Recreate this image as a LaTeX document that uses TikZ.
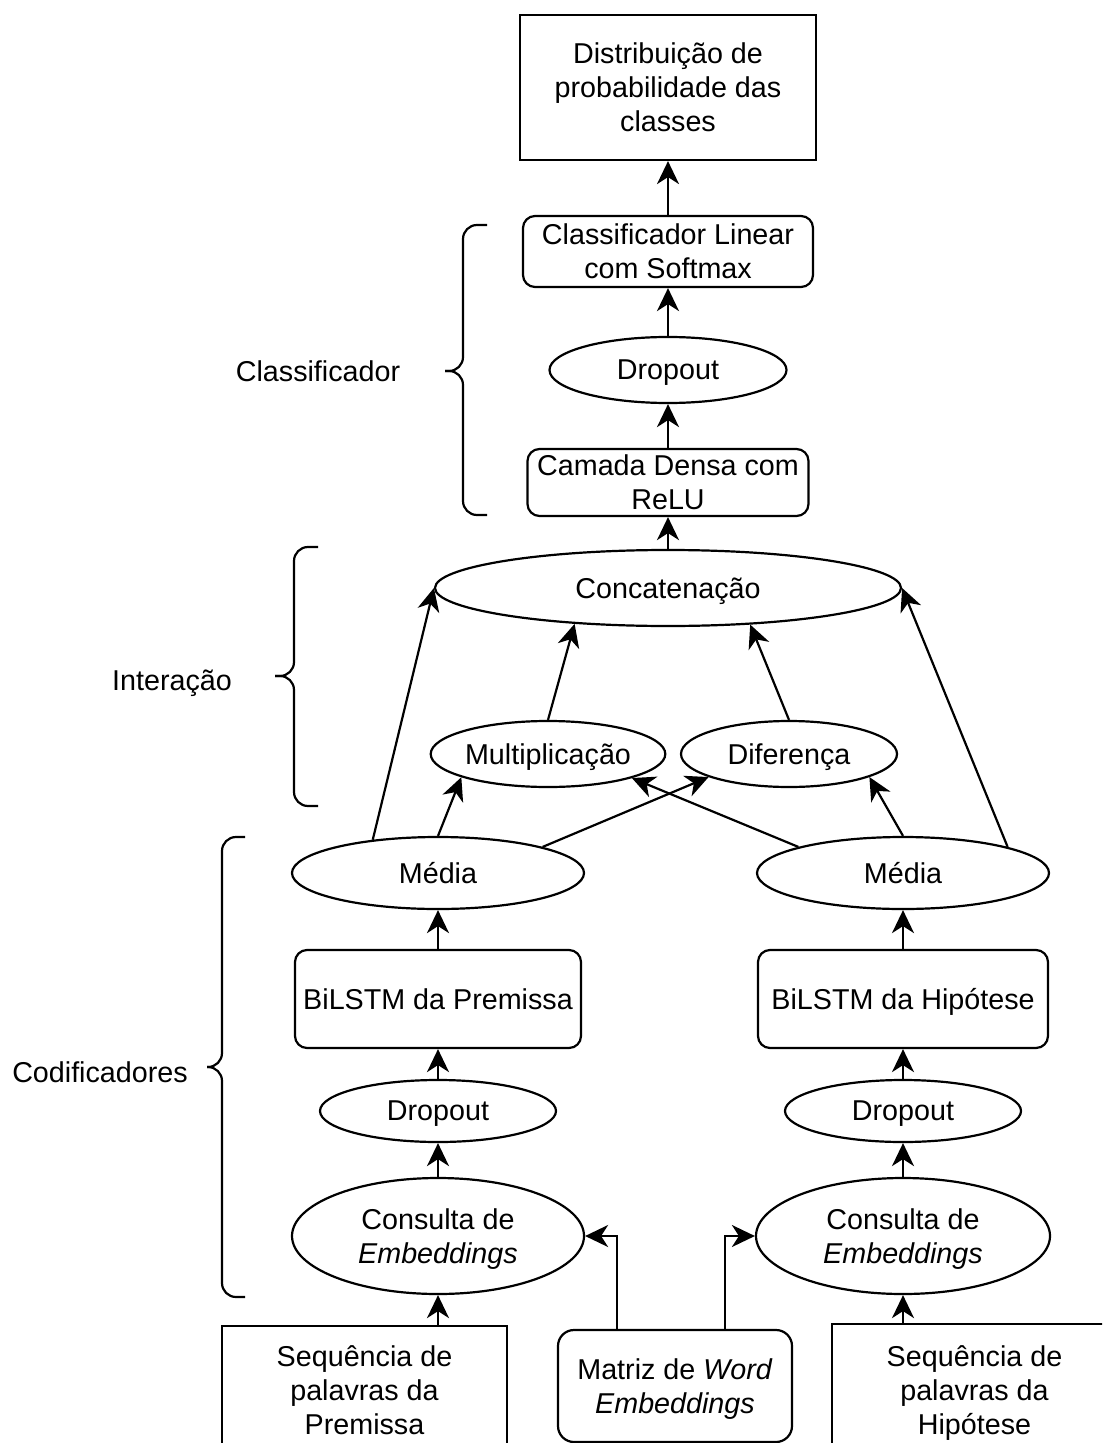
\documentclass[tikz,border=0pt]{standalone}
\usepackage{fontspec}
\setmainfont{Liberation Sans}
\usetikzlibrary{shapes.geometric,arrows.meta}

\begin{document}
\begin{tikzpicture}[x=0.5pt,y=-0.5pt,line width=1.1pt,
  every node/.style={inner sep=0pt,align=center,text depth=0pt,font=\fontsize{14.35}{17}\selectfont},
  box/.style={draw,rectangle},
  rbox/.style={draw,rectangle,rounded corners=6pt},
  oval/.style={draw,ellipse},
  arr/.style={-{Stealth[length=11.5pt,width=11pt,inset=3.5pt]}},
  brace/.style={rounded corners=7pt}]
\useasboundingbox (0,0) rectangle (1102,1443);
\clip (0,0) rectangle (1102,1443);
\node[box,minimum width=148pt,minimum height=72.5pt] (dist) at (668,87.5) {Distribuição de\\probabilidade das\\classes};
\node[rbox,minimum width=145pt,minimum height=35.5pt] (linear) at (668,251.5) {Classificador Linear\\com Softmax};
\node[oval,minimum width=118.5pt,minimum height=33pt] (dropc) at (668,370) {Dropout};
\node[rbox,minimum width=140.5pt,minimum height=33.5pt] (densa) at (668,482.5) {Camada Densa com\\ReLU};
\node[oval,minimum width=233pt,minimum height=38pt] (concat) at (668,588) {Concatenação};
\node[oval,minimum width=116pt,minimum height=33pt] (mult) at (548,754) {Multiplicação};
\node[oval,minimum width=108pt,minimum height=33pt] (dif) at (789,754) {Diferença};
\node[oval,minimum width=146pt,minimum height=36pt] (medp) at (438,873) {Média};
\node[oval,minimum width=146pt,minimum height=36pt] (medh) at (903,873) {Média};
\node[rbox,minimum width=143pt,minimum height=49pt] (bilp) at (438,999) {BiLSTM da Premissa};
\node[rbox,minimum width=145pt,minimum height=49pt] (bilh) at (903,999) {BiLSTM da Hipótese};
\node[oval,minimum width=118pt,minimum height=31pt] (dropp) at (438,1111) {Dropout};
\node[oval,minimum width=118pt,minimum height=31pt] (droph) at (903,1111) {Dropout};
\node[oval,minimum width=146pt,minimum height=58pt] (consp) at (438,1236) {Consulta de\\\textit{Embeddings}};
\node[oval,minimum width=147pt,minimum height=58pt] (consh) at (903,1236) {Consulta de\\\textit{Embeddings}};
\node[box,minimum width=142.5pt,minimum height=64pt] (seqp) at (364.5,1390) {Sequência de\\palavras da\\Premissa};
\node[rbox,rounded corners=8pt,minimum width=117pt,minimum height=56pt] (matriz) at (675,1386) {Matriz de \textit{Word}\\\textit{Embeddings}};
\node[box,minimum width=142.5pt,minimum height=66pt] (seqh) at (974.5,1390) {Sequência de\\palavras da\\Hipótese};
\node (lblclass) at (318,371) {Classificador};
\node (lblinter) at (172,680) {Interação};
\node (lblcod) at (100,1072) {Codificadores};
\draw[arr] (linear.north) -- (dist.south);
\draw[arr] (dropc.north) -- (linear.south);
\draw[arr] (densa.north) -- (dropc.south);
\draw[arr] (concat.north) -- (densa.south);
\draw[arr] (mult.north) -- (concat.201);
\draw[arr] (dif.north) -- (concat.336);
\draw[arr] (medp.153) -- (concat.west);
\draw[arr] (medp.north) -- (mult.195);
\draw[arr] (medp.14) -- (dif.196);
\draw[arr] (medh.166) -- (mult.344);
\draw[arr] (medh.north) -- (dif.344);
\draw[arr] (medh.14) -- (concat.east);
\draw[arr] (bilp.north) -- (medp.south);
\draw[arr] (bilh.north) -- (medh.south);
\draw[arr] (dropp.north) -- (bilp.south);
\draw[arr] (droph.north) -- (bilh.south);
\draw[arr] (consp.north) -- (dropp.south);
\draw[arr] (consh.north) -- (droph.south);
\draw[arr] (seqp.north -| consp.south) -- (consp.south);
\draw[arr] (seqh.north -| consh.south) -- (consh.south);
\draw[arr] ([xshift=-29pt]matriz.north) |- (consp.east);
\draw[arr] ([xshift=25pt]matriz.north) |- (consh.west);
\draw[brace] (487,225) -- (463,225) -- (463,371) -- (445,371);
\draw[brace] (445,371) -- (463,371) -- (463,515) -- (487,515);
\draw[brace] (318,547) -- (294,547) -- (294,676) -- (275,676);
\draw[brace] (275,676) -- (294,676) -- (294,806) -- (318,806);
\draw[brace] (245,837) -- (222,837) -- (222,1067) -- (207,1067);
\draw[brace] (207,1067) -- (222,1067) -- (222,1297) -- (245,1297);
\end{tikzpicture}
\end{document}
